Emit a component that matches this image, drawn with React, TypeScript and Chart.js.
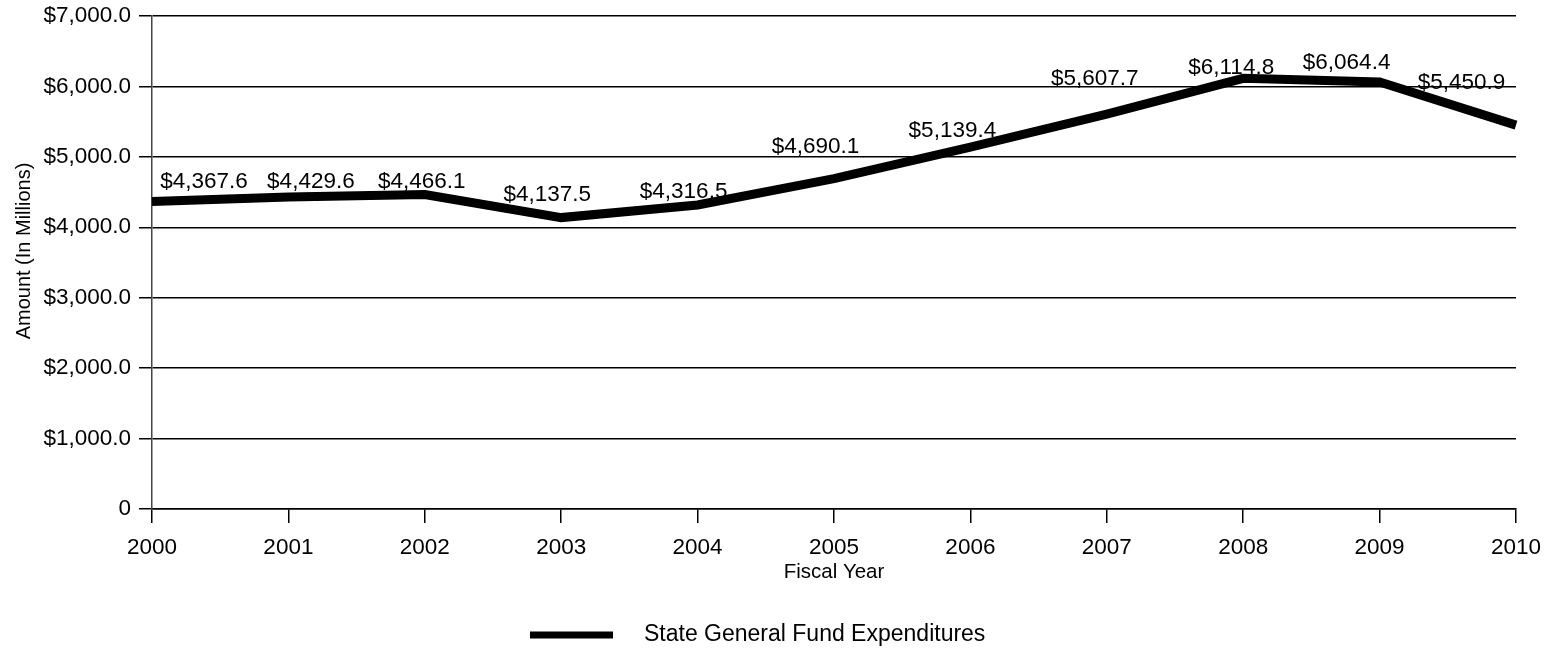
import React, { useEffect, useRef } from "react";
import { Chart, registerables } from "chart.js";

Chart.register(...registerables);

const years = ["2000", "2001", "2002", "2003", "2004", "2005", "2006", "2007", "2008", "2009", "2010"];
const expenditures = [4367.6, 4429.6, 4466.1, 4137.5, 4316.5, 4690.1, 5139.4, 5607.7, 6114.8, 6064.4, 5450.9];
const valueLabels = ["$4,367.6", "$4,429.6", "$4,466.1", "$4,137.5", "$4,316.5", "$4,690.1", "$5,139.4", "$5,607.7", "$6,114.8", "$6,064.4", "$5,450.9"];
const seriesName = "State General Fund Expenditures";
const yTitle = "Amount (In Millions)";
const xTitle = "Fiscal Year";

const FONT = "'Liberation Sans', Arial, sans-serif";

const labelOffsets: [number, number][] = [
  [52, -19.5], [22.5, -15], [-3, -12.5], [-14, -23], [-14, -13], [-18.5, -32],
  [-18, -16], [-12, -35], [-12, -10.5], [-33, -19], [-54.5, -42],
];

const decorPlugin = {
  id: "decor",
  afterDatasetsDraw(chart: any) {
    const ctx = chart.ctx;
    const meta = chart.getDatasetMeta(0);
    ctx.save();
    ctx.fillStyle = "#000";
    ctx.font = `22.5px ${FONT}`;
    ctx.textAlign = "center";
    ctx.textBaseline = "middle";
    meta.data.forEach((pt: any, i: number) => {
      const [dx, dy] = labelOffsets[i];
      ctx.fillText(valueLabels[i], pt.x + dx, pt.y + dy);
    });
    ctx.restore();
  },
  afterDraw(chart: any) {
    const ctx = chart.ctx;
    const area = chart.chartArea;
    ctx.save();
    ctx.fillStyle = "#000";
    ctx.font = `20px ${FONT}`;
    ctx.textAlign = "center";
    ctx.textBaseline = "middle";
    ctx.translate(24, 251);
    ctx.rotate(-Math.PI / 2);
    ctx.fillText(yTitle, 0, 0);
    ctx.restore();

    ctx.save();
    ctx.fillStyle = "#000";
    ctx.font = `20.5px ${FONT}`;
    ctx.textAlign = "center";
    ctx.textBaseline = "middle";
    ctx.fillText(xTitle, (area.left + area.right) / 2, 572);

    ctx.strokeStyle = "#000";
    ctx.lineWidth = 7;
    ctx.beginPath();
    ctx.moveTo(530, 635);
    ctx.lineTo(613, 635);
    ctx.stroke();
    ctx.font = `23px ${FONT}`;
    ctx.textAlign = "left";
    ctx.fillText(seriesName, 644, 635);
    ctx.restore();
  },
};

export default function App() {
  const ref = useRef<HTMLCanvasElement>(null);
  useEffect(() => {
    if (!ref.current) return;
    const chart = new Chart(ref.current, {
      type: "line",
      data: {
        labels: years,
        datasets: [
          {
            label: seriesName,
            data: expenditures,
            borderColor: "#000",
            backgroundColor: "#000",
            borderWidth: 9,
            pointRadius: 0,
            tension: 0,
            borderJoinStyle: "miter",
          },
        ],
      },
      options: {
        animation: false,
        responsive: false,
        layout: { padding: { top: 16, right: 33, left: 0, bottom: 0 } },
        plugins: { legend: { display: false }, tooltip: { enabled: false } },
        scales: {
          x: {
            offset: false,
            grid: { drawOnChartArea: false, drawTicks: true, tickLength: 14, color: "#000", lineWidth: 1.5 },
            border: { display: true, color: "#000", width: 1.5 },
            ticks: { color: "#000", font: { family: FONT, size: 22.5 }, padding: 11, maxRotation: 0, autoSkip: false },
            afterFit: (s: any) => {
              s.height = 143;
              s.paddingLeft = 0;
              s.paddingRight = 0;
            },
          },
          y: {
            min: 0,
            max: 7000,
            grid: { color: "#000", lineWidth: 1.5, tickLength: 13, drawTicks: true },
            border: { display: true, color: "#444", width: 1.5 },
            ticks: {
              stepSize: 1000,
              color: "#000",
              padding: 8,
              font: { family: FONT, size: 22.5 },
              callback: (v: any) =>
                v === 0 ? "0" : "$" + Number(v).toLocaleString("en-US", { minimumFractionDigits: 1, maximumFractionDigits: 1 }),
            },
            afterFit: (s: any) => {
              s.width = 152;
              s.paddingTop = 0;
              s.paddingBottom = 0;
            },
          },
        },
      },
      plugins: [decorPlugin],
    });
    return () => chart.destroy();
  }, []);
  return (
    <div style={{ position: "fixed", left: 0, top: 0, width: 1549, height: 652, background: "#fff" }}>
      <canvas ref={ref} width={1549} height={652} style={{ display: "block" }} />
    </div>
  );
}
